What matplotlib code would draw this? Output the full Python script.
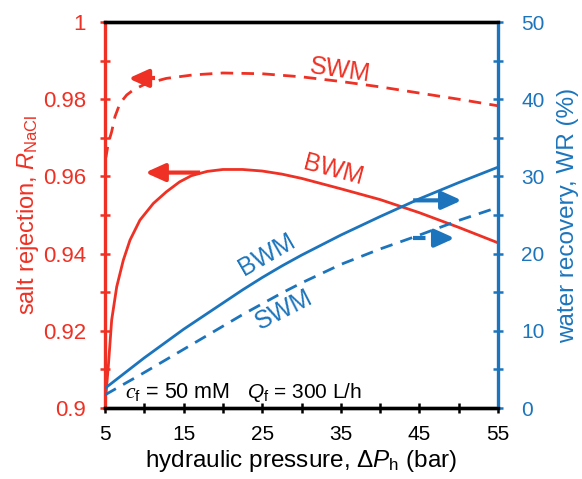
import matplotlib
matplotlib.use("Agg")
import matplotlib.pyplot as plt
from matplotlib.patches import FancyArrowPatch

plt.rcParams['font.family'] = ['Liberation Sans', 'DejaVu Sans']
plt.rcParams['mathtext.fontset'] = 'custom'
plt.rcParams['mathtext.rm'] = 'Liberation Sans'
plt.rcParams['mathtext.it'] = 'Liberation Sans:italic'
plt.rcParams['mathtext.bf'] = 'Liberation Sans:bold'
plt.rcParams['mathtext.sf'] = 'Liberation Serif:italic'

RED = '#EE3124'
BLUE = '#1C75BC'

# Salt rejection (left axis)
p_bwm_r = [5, 5.13, 5.42, 5.85, 6.49, 7.33, 8.18, 9.45, 11.15, 12.8, 14.5, 16, 18, 20,
           22.5, 25, 27.5, 30, 35, 40, 45, 50, 55]
r_bwm = [0.902, 0.9038, 0.9107, 0.9228, 0.9314, 0.9383, 0.9435, 0.9487, 0.953, 0.956,
         0.9586, 0.9602, 0.9613, 0.9618, 0.9618, 0.9614, 0.9606, 0.9595, 0.9568, 0.9540,
         0.9506, 0.9468, 0.9428]
p_swm_r = [5, 5.13, 5.42, 5.85, 6.27, 6.9, 7.76, 8.6, 9.87, 11.15, 12.8, 16.2, 20, 25, 30,
           35, 40, 45, 50, 55]
r_swm = [0.9645, 0.9651, 0.9686, 0.9716, 0.9755, 0.9789, 0.9811, 0.9824, 0.9837, 0.9845,
         0.9854, 0.9863, 0.9868, 0.9866, 0.9858, 0.9846, 0.9832, 0.9816, 0.9800, 0.9783]

# Water recovery (right axis, %)
p_wr = [5, 10, 15, 17.5, 20, 22.5, 25, 27.5, 30, 35, 40, 45, 50, 55]
wr_bwm = [2.55, 6.5, 10.2, 11.9, 13.6, 15.3, 16.9, 18.4, 19.8, 22.4, 24.8, 27.1, 29.2, 31.2]
wr_swm = [1.7, 4.6, 7.6, 9.1, 10.6, 12.1, 13.5, 14.9, 16.2, 18.6, 20.6, 22.4, 24.3, 26.0]

x_ticks = [5, 15, 25, 35, 45, 55]
y_left_ticks = [0.9, 0.92, 0.94, 0.96, 0.98, 1.0]
y_left_labels = ['0.9', '0.92', '0.94', '0.96', '0.98', '1']
y_right_ticks = [0, 10, 20, 30, 40, 50]

fig = plt.figure(figsize=(5.82, 4.79), dpi=100)
ax = fig.add_axes([0.1804, 0.1482, 0.6753, 0.8058])
ax2 = ax.twinx()

lw = 2.0
ax.plot(p_bwm_r, r_bwm, color=RED, lw=lw, zorder=3)
ax.plot(p_swm_r, r_swm, color=RED, lw=lw, dashes=(4.5, 3), zorder=3)
ax2.plot(p_wr, wr_bwm, color=BLUE, lw=lw, zorder=2)
ax2.plot(p_wr, wr_swm, color=BLUE, lw=lw, dashes=(4.5, 3), zorder=2)

ax.set_xlim(5, 55)
ax.set_ylim(0.9, 1.0)
ax2.set_ylim(0, 50)

ax.set_xticks(x_ticks)
ax.set_xticks(list(range(5, 56, 5)), minor=True)
ax.set_yticks(y_left_ticks)
ax.set_yticklabels(y_left_labels)
ax.set_yticks([0.9 + 0.01 * i for i in range(11)], minor=True)
ax2.set_yticks(y_right_ticks)
ax2.set_yticks(list(range(0, 51, 5)), minor=True)

ax.tick_params(axis='x', which='both', direction='inout', length=7.5, width=1.8,
               colors='black', labelsize=15, pad=8.5)
ax.tick_params(axis='y', which='both', direction='inout', length=7.5, width=1.8,
               colors=RED, labelsize=16, pad=10)
ax2.tick_params(axis='y', which='both', direction='inout', length=7.5, width=1.8,
                colors=BLUE, labelsize=15, pad=13)

for a in (ax, ax2):
    for s in a.spines.values():
        s.set_linewidth(2.4)
    a.spines['left'].set_color(RED)
    a.spines['right'].set_color(BLUE)
    a.spines['top'].set_color('black')
    a.spines['bottom'].set_color('black')
ax.spines['right'].set_visible(False)
ax2.spines['left'].set_visible(False)

ax.set_xlabel(r'hydraulic pressure, $\Delta \mathit{P}_{\mathrm{h}}$ (bar)', fontsize=17.5, labelpad=3)
ax.set_ylabel(r'salt rejection, $\mathit{R}_{\mathrm{NaCl}}$', fontsize=17, color=RED, labelpad=1)
ax2.set_ylabel('water recovery, WR (%)', fontsize=17.5, color=BLUE, labelpad=9)

# curve labels
ax.text(34.9, 0.9876, 'SWM', color=RED, fontsize=18, rotation=-8, ha='center', va='center')
ax.text(34.0, 0.9617, 'BWM', color=RED, fontsize=18, rotation=-15, ha='center', va='center')
ax2.text(25.6, 19.8, 'BWM', color=BLUE, fontsize=18, rotation=30, ha='center', va='center')
ax2.text(27.7, 12.7, 'SWM', color=BLUE, fontsize=18, rotation=27, ha='center', va='center')

# arrows
def head(axis, x0, y0, x1, y1, color):
    a = FancyArrowPatch((x0, y0), (x1, y1), arrowstyle='-|>,head_length=0.8,head_width=0.36',
                        mutation_scale=15, color=color, lw=3.0,
                        shrinkA=0, shrinkB=0, zorder=5, capstyle='butt')
    axis.add_patch(a)

def dashed_arrow(axis, x0, y0, xm, x1, color):
    axis.plot([x0, xm], [y0, y0], color=color, lw=3.0, dashes=(3, 2.5), zorder=5)
    head(axis, xm, y0, x1, y0, color)

head(ax, 17.1, 0.9610, 10.1, 0.9610, RED)
dashed_arrow(ax, 11.4, 0.9854, 9.6, 7.97, RED)
head(ax2, 44.2, 26.9, 50.4, 26.9, BLUE)
dashed_arrow(ax2, 44.2, 22.0, 47.7, 49.5, BLUE)

ax.text(7.54, 0.9026, r'$\mathsf{c}_{\mathrm{f}}$ = 50 mM', fontsize=15.5, ha='left', va='baseline')
ax.text(23.07, 0.9026, r'$\mathit{Q}_{\mathrm{f}}$ = 300 L/h', fontsize=15, ha='left', va='baseline')

fig.savefig('out.png', dpi=100)
